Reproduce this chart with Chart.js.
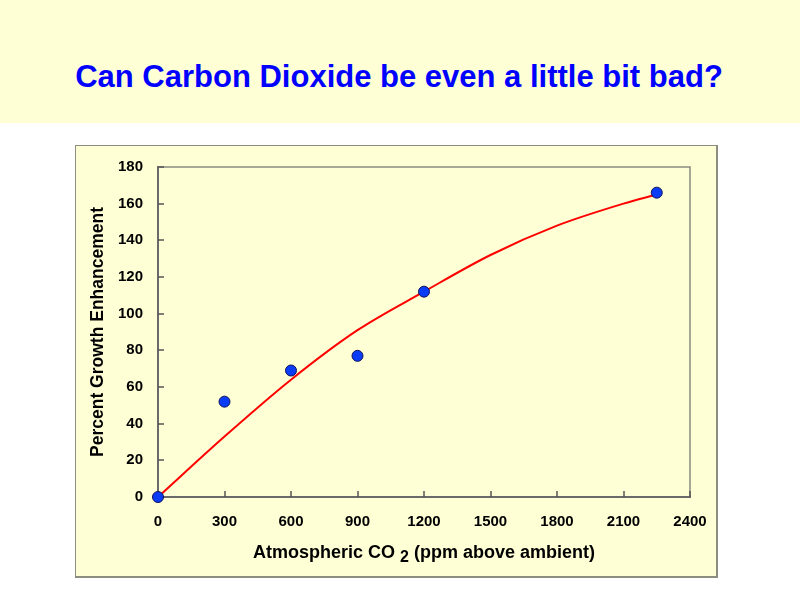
<!DOCTYPE html>
<html>
<head>
<meta charset="utf-8">
<script src="https://cdn.jsdelivr.net/npm/chart.js@4"></script>
<style>
  body { margin: 0; background: #fff; width: 800px; height: 600px; position: relative; overflow: hidden; font-family: Arial, "Liberation Sans", sans-serif; }
  #band { position: absolute; left: 0; top: 0; width: 800px; height: 123px; background: #ffffd6; }
  #title { position: absolute; left: 0; top: 61px; width: 798px; text-align: center; font-size: 31px; line-height: 31px; font-weight: bold; color: #0000ff; }
  #box { position: absolute; left: 75px; top: 145px; width: 643px; height: 433px; box-sizing: border-box; background: #ffffd6; border: solid #8e8e80; border-width: 1px 2px 2px 1px; }
  #box canvas { display: block; }
</style>
</head>
<body>
<div id="band"></div>
<div id="title">Can Carbon Dioxide be even a little bit bad?</div>
<div id="box"><canvas id="chart-co2" width="640" height="430"></canvas></div>
<script>
// measured points
const co2Levels = [0, 300, 600, 900, 1200, 2250];
const growthPct = [0, 52, 69, 77, 112, 166];
// red trend curve
const fitCo2 = [0, 300, 600, 900, 1200, 1500, 1800, 2100, 2250];
const fitGrowth = [0, 33, 64, 91, 112, 132, 148, 160, 165];
// axis ticks
const xTicks = [0, 300, 600, 900, 1200, 1500, 1800, 2100, 2400];
const yTicks = [0, 20, 40, 60, 80, 100, 120, 140, 160, 180];

const xTitle = ['Atmospheric CO', '2', '(ppm above ambient)'];
const yTitle = 'Percent Growth Enhancement';

const FONT = 'Arial, "Liberation Sans", sans-serif';
Chart.defaults.font.family = FONT;

// frame round the plot, inward ticks and the x title with its subscript
const framePlugin = {
    id: 'frame',
    beforeDatasetsDraw(chart) {
        const { ctx, chartArea: a } = chart;
        const xs = chart.scales.x, ys = chart.scales.y;
        ctx.save();
        ctx.strokeStyle = '#8a8a80';
        ctx.lineWidth = 1.5;
        ctx.beginPath();
        ctx.moveTo(a.left, a.top);
        ctx.lineTo(a.right, a.top);
        ctx.lineTo(a.right, a.bottom);
        ctx.stroke();

        ctx.strokeStyle = '#555';
        ctx.lineWidth = 1.5;
        ctx.beginPath();
        yTicks.forEach(v => {
            const y = Math.round(ys.getPixelForValue(v));
            ctx.moveTo(a.left, y);
            ctx.lineTo(a.left + 6, y);
        });
        xTicks.forEach(v => {
            const x = Math.round(xs.getPixelForValue(v));
            ctx.moveTo(x, a.bottom);
            ctx.lineTo(x, a.bottom - 6);
        });
        ctx.stroke();
        ctx.restore();
    },
    afterDraw(chart) {
        const { ctx, chartArea: a } = chart;
        ctx.save();
        ctx.fillStyle = '#000';
        ctx.textBaseline = 'alphabetic';
        const big = 'bold 18px ' + FONT, small = 'bold 16px ' + FONT;
        ctx.font = big;
        const w1 = ctx.measureText(xTitle[0] + ' ').width;
        const w3 = ctx.measureText(' ' + xTitle[2]).width;
        ctx.font = small;
        const w2 = ctx.measureText(xTitle[1]).width;
        let x = (a.left + a.right) / 2 - (w1 + w2 + w3) / 2;
        const base = 412;
        ctx.font = big;
        ctx.fillText(xTitle[0] + ' ', x, base);
        x += w1;
        ctx.font = small;
        ctx.fillText(xTitle[1], x, base + 4);
        x += w2;
        ctx.font = big;
        ctx.fillText(' ' + xTitle[2], x, base);
        ctx.restore();
    }
};

const canvas = document.getElementById('chart-co2');

new Chart(canvas, {
    type: 'scatter',
    data: {
        datasets: [
            {
                label: 'Measured',
                data: co2Levels.map((c, i) => ({ x: c, y: growthPct[i] })),
                backgroundColor: '#0a3cf5',
                borderColor: '#10105a',
                borderWidth: 1,
                pointRadius: 5.5,
                showLine: false,
                clip: false
            },
            {
                label: 'Fit',
                data: fitCo2.map((c, i) => ({ x: c, y: fitGrowth[i] })),
                borderColor: '#ff0000',
                borderWidth: 2,
                pointRadius: 0,
                showLine: true,
                cubicInterpolationMode: 'monotone'
            }
        ]
    },
    options: {
        responsive: false,
        animation: false,
        layout: { padding: { left: 0, right: 26, top: 21, bottom: 0 } },
        plugins: {
            legend: { display: false },
            tooltip: { enabled: false }
        },
        scales: {
            x: {
                type: 'linear',
                min: 0,
                max: 2400,
                afterBuildTicks: s => { s.ticks = xTicks.map(v => ({ value: v })); },
                afterFit: s => {
                    s.height = 79;
                    s.paddingLeft = 0;
                    s.paddingRight = 0;
                },
                grid: { display: false, drawTicks: false },
                border: { display: true, color: '#6a6a6a', width: 2 },
                ticks: {
                    color: '#000',
                    padding: 16,
                    maxRotation: 0,
                    font: { size: 15, weight: 'bold' },
                    callback: v => String(v)
                }
            },
            y: {
                min: 0,
                max: 180,
                afterBuildTicks: s => { s.ticks = yTicks.map(v => ({ value: v })); },
                afterFit: s => {
                    s.width = 82;
                    s.paddingTop = 0;
                    s.paddingBottom = 0;
                },
                grid: { display: false, drawTicks: false },
                border: { display: true, color: '#6a6a6a', width: 2 },
                ticks: {
                    color: '#000',
                    padding: 15,
                    font: { size: 15, weight: 'bold' },
                    callback: v => String(v)
                },
                title: {
                    display: true,
                    text: yTitle,
                    color: '#000',
                    padding: { top: 12, bottom: 0 },
                    font: { size: 17.5, weight: 'bold' }
                }
            }
        }
    },
    plugins: [framePlugin]
});
</script>
</body>
</html>
